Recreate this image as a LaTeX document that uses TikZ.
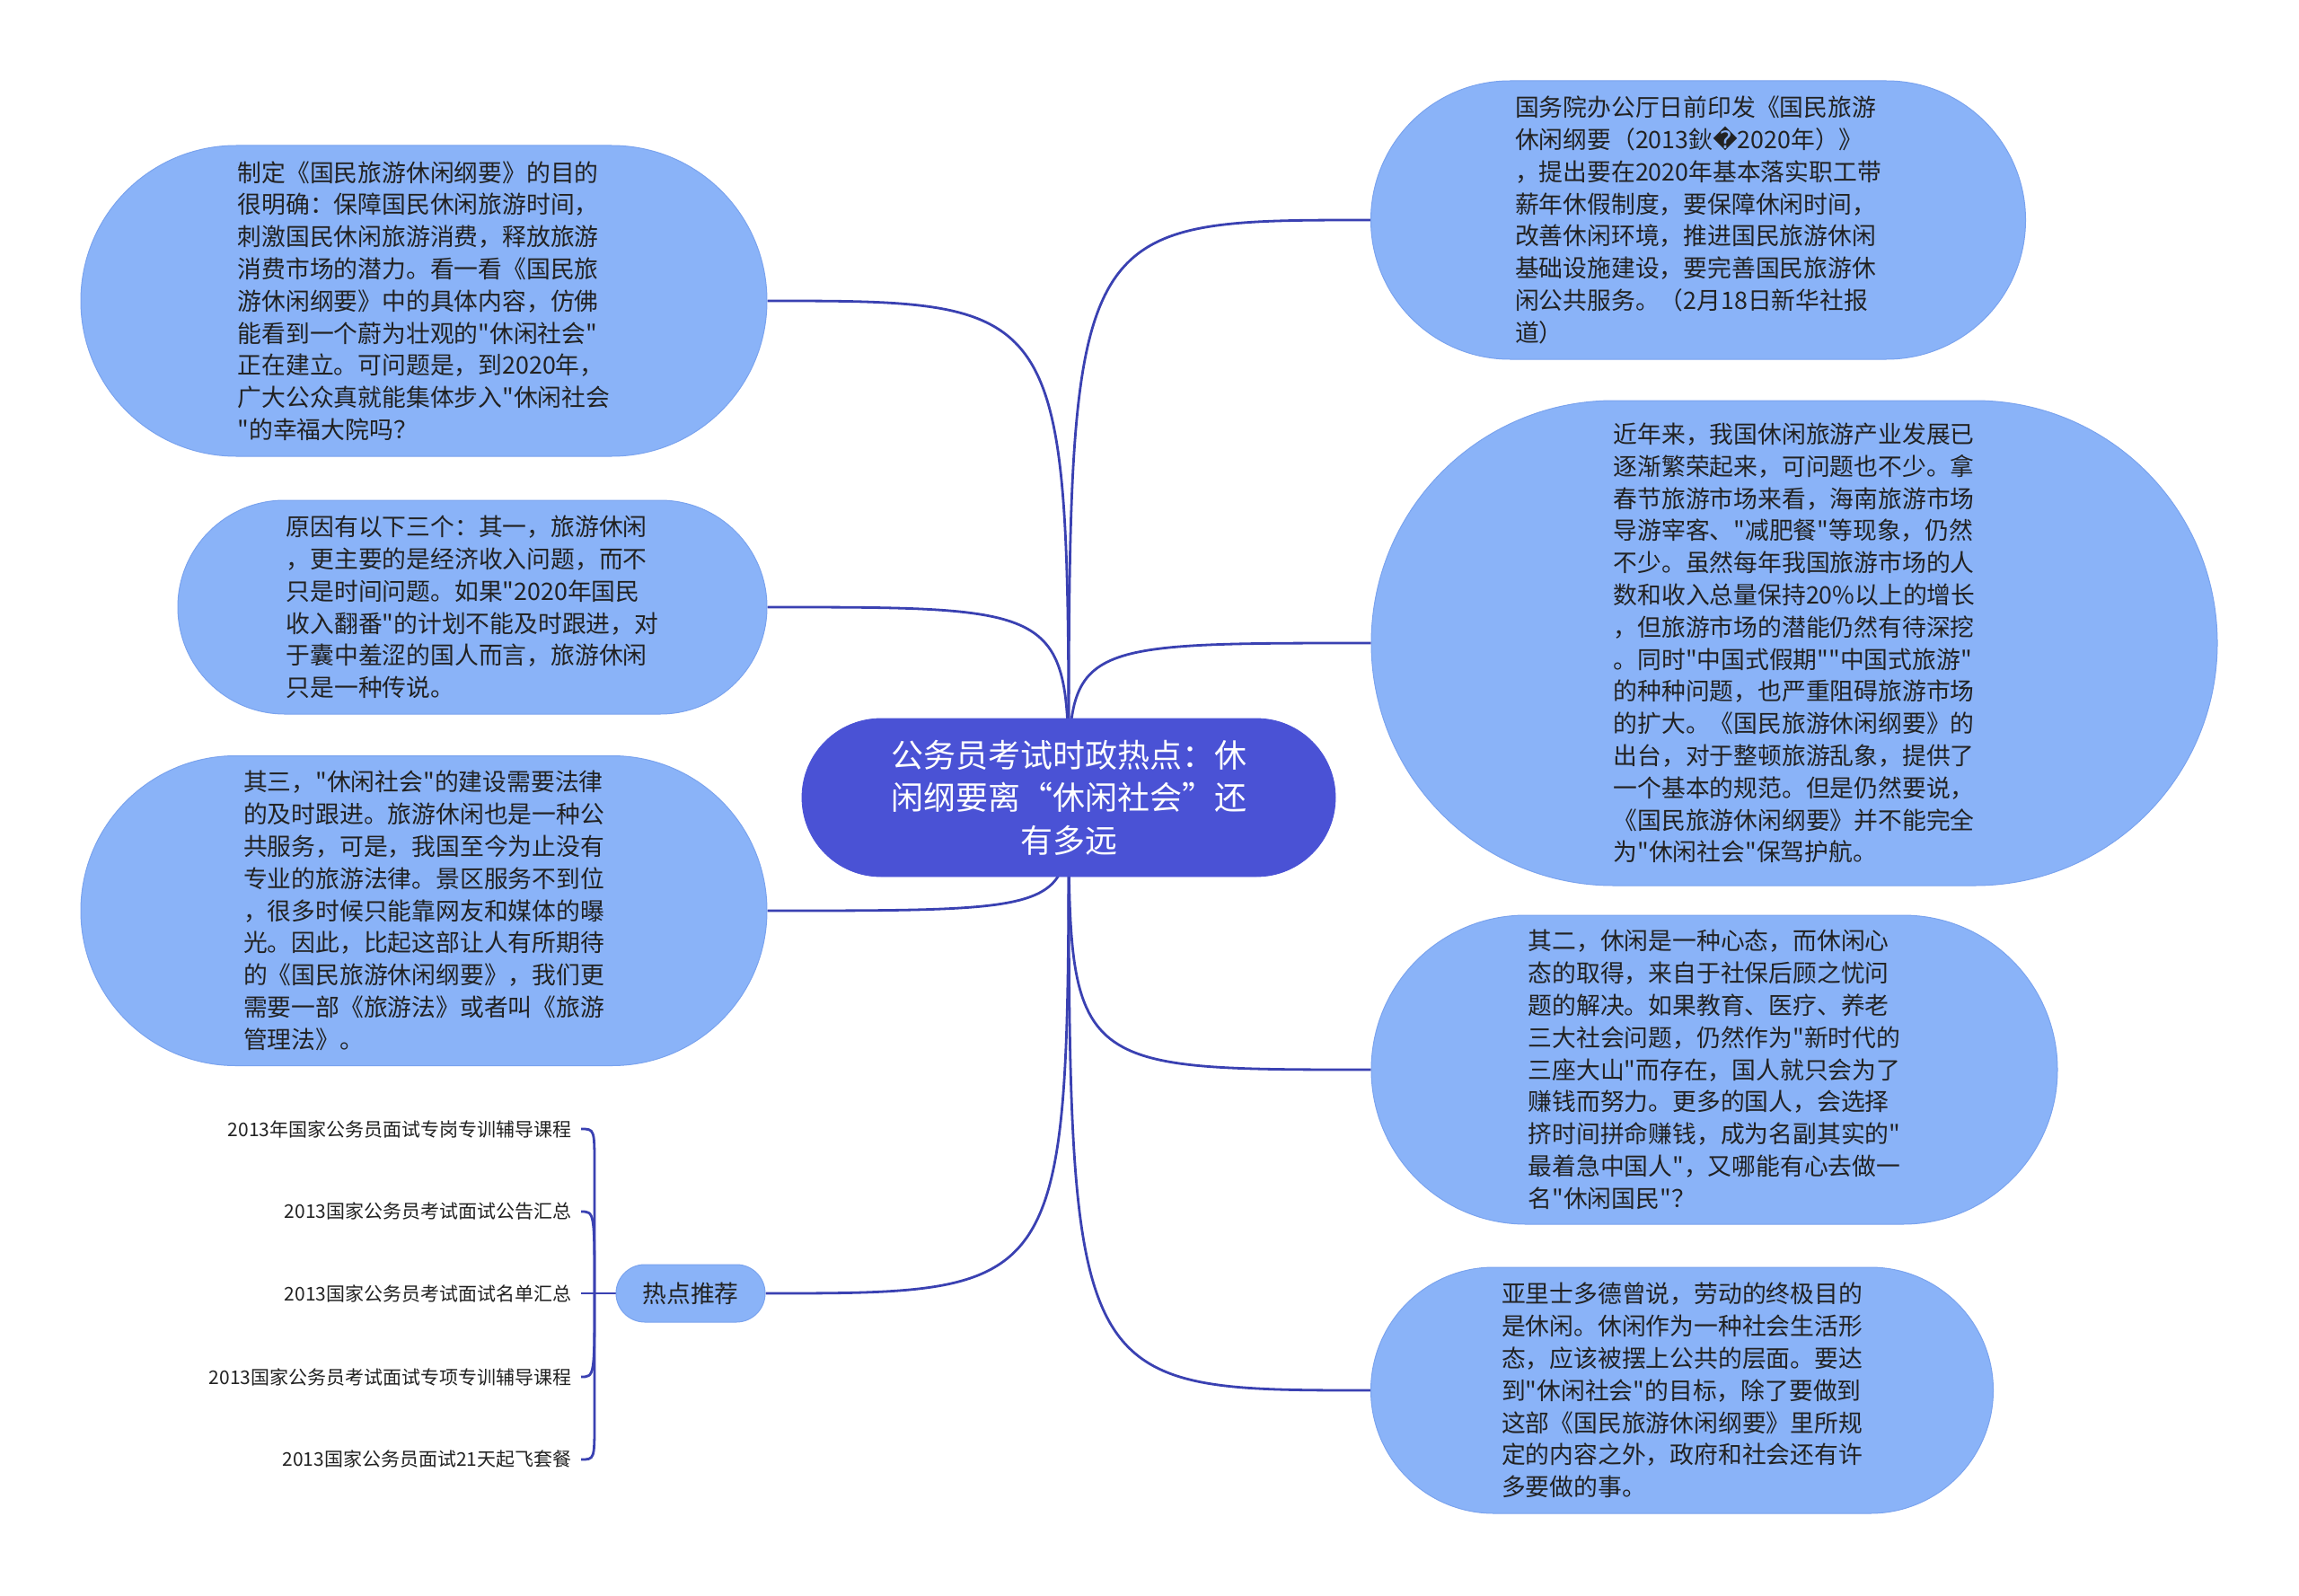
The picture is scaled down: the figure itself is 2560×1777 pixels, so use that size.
\documentclass[tikz,border=0pt]{standalone}
\usepackage{fontspec}
\setmainfont{Noto Sans CJK SC}
\newfontfamily\cjk{Noto Sans CJK SC}
\newfontfamily\symfnt{DejaVu Sans}
\usetikzlibrary{shapes.misc}
\definecolor{bubfill}{HTML}{8AB3F8}
\definecolor{bubdraw}{HTML}{7AA3EE}
\definecolor{ctrfill}{HTML}{4A52D5}
\definecolor{lineblue}{HTML}{3A41B2}
\definecolor{txt}{HTML}{222222}
\pgfdeclarelayer{bg}
\pgfsetlayers{bg,main}
\begin{document}
\begin{tikzpicture}[x=0.5pt,y=-0.5pt,
  bub/.style={rounded rectangle, fill=bubfill, draw=bubdraw, line width=0.5pt, inner sep=0pt, align=left, text=txt, font=\cjk\fontsize{13.4}{17.9}\selectfont},
  ctr/.style={rounded rectangle, fill=ctrfill, draw=ctrfill, inner sep=0pt, align=center, text=white, font=\cjk\fontsize{18}{23.7}\selectfont},
  conn/.style={draw=lineblue, line width=1.4pt},
  item/.style={anchor=east, inner xsep=5pt, inner ysep=0pt, text=txt, font=\cjk\fontsize{10.5}{13}\selectfont}]
\useasboundingbox (0,0) rectangle (2560,1777);

% central topic
\node[ctr, minimum width=297pt, minimum height=88pt] (c) at (1190,888)
 {公务员考试时政热点：休\\闲纲要离“休闲社会”还\\有多远};

% left branches
\node[bub, minimum width=382pt, minimum height=173pt] (l1) at (472,335)
 {制定《国民旅游休闲纲要》的目的\\很明确：保障国民休闲旅游时间，\\刺激国民休闲旅游消费，释放旅游\\消费市场的潜力。看一看《国民旅\\游休闲纲要》中的具体内容，仿佛\\能看到一个蔚为壮观的"休闲社会"\\正在建立。可问题是，到2020年，\\广大公众真就能集体步入"休闲社会\\"的幸福大院吗？};

\node[bub, minimum width=328pt, minimum height=119pt] (l2) at (526,676)
 {原因有以下三个：其一，旅游休闲\\，更主要的是经济收入问题，而不\\只是时间问题。如果"2020年国民\\收入翻番"的计划不能及时跟进，对\\于囊中羞涩的国人而言，旅游休闲\\只是一种传说。};

\node[bub, minimum width=382pt, minimum height=172.5pt] (l3) at (472,1014)
 {其三，"休闲社会"的建设需要法律\\的及时跟进。旅游休闲也是一种公\\共服务，可是，我国至今为止没有\\专业的旅游法律。景区服务不到位\\，很多时候只能靠网友和媒体的曝\\光。因此，比起这部让人有所期待\\的《国民旅游休闲纲要》，我们更\\需要一部《旅游法》或者叫《旅游\\管理法》。};

\node[bub, minimum width=83pt, minimum height=32pt, align=center] (hot) at (769,1440) {热点推荐};

% right branches
\node[bub, minimum width=364.5pt, minimum height=155pt] (r1) at (1891,245)
 {国务院办公厅日前印发《国民旅游\\休闲纲要（2013鈥{\symfnt �}2020年）》\\，提出要在2020年基本落实职工带\\薪年休假制度，要保障休闲时间，\\改善休闲环境，推进国民旅游休闲\\基础设施建设，要完善国民旅游休\\闲公共服务。（2月18日新华社报\\道）};

\node[bub, minimum width=471pt, minimum height=270pt] (r2) at (1998,716)
 {近年来，我国休闲旅游产业发展已\\逐渐繁荣起来，可问题也不少。拿\\春节旅游市场来看，海南旅游市场\\导游宰客、"减肥餐"等现象，仍然\\不少。虽然每年我国旅游市场的人\\数和收入总量保持20\%以上的增长\\，但旅游市场的潜能仍然有待深挖\\。同时"中国式假期""中国式旅游"\\的种种问题，也严重阻碍旅游市场\\的扩大。《国民旅游休闲纲要》的\\出台，对于整顿旅游乱象，提供了\\一个基本的规范。但是仍然要说，\\《国民旅游休闲纲要》并不能完全\\为"休闲社会"保驾护航。};

\node[bub, minimum width=382pt, minimum height=172pt] (r3) at (1909,1191)
 {其二，休闲是一种心态，而休闲心\\态的取得，来自于社保后顾之忧问\\题的解决。如果教育、医疗、养老\\三大社会问题，仍然作为"新时代的\\三座大山"而存在，国人就只会为了\\赚钱而努力。更多的国人，会选择\\挤时间拼命赚钱，成为名副其实的"\\最着急中国人"，又哪能有心去做一\\名"休闲国民"？};

\node[bub, minimum width=346.5pt, minimum height=137pt] (r4) at (1873,1548)
 {亚里士多德曾说，劳动的终极目的\\是休闲。休闲作为一种社会生活形\\态，应该被摆上公共的层面。要达\\到"休闲社会"的目标，除了要做到\\这部《国民旅游休闲纲要》里所规\\定的内容之外，政府和社会还有许\\多要做的事。};

% hot-topic items
\node[item] (i1) at (647,1257) {2013年国家公务员面试专岗专训辅导课程};
\node[item] (i2) at (647,1349) {2013国家公务员考试面试公告汇总};
\node[item] (i3) at (647,1440) {2013国家公务员考试面试名单汇总};
\node[item] (i4) at (647,1533) {2013国家公务员考试面试专项专训辅导课程};
\node[item] (i5) at (647,1625) {2013国家公务员面试21天起飞套餐};

\coordinate (br) at (662,1440);
\coordinate (t1) at (662,1300);
\coordinate (t5) at (662,1582);

\begin{pgfonlayer}{bg}
\fill[white] (0,0) rectangle (2560,1777);
\draw[conn] (c.center) .. controls (c.center |- l1.east) .. (l1.east);
\draw[conn] (c.center) .. controls (c.center |- l2.east) .. (l2.east);
\draw[conn] (c.center) .. controls (c.center |- l3.east) .. (l3.east);
\draw[conn] (c.center) .. controls (c.center |- hot.east) .. (hot.east);
\draw[conn] (c.center) .. controls (c.center |- r1.west) .. (r1.west);
\draw[conn] (c.center) .. controls (c.center |- r2.west) .. (r2.west);
\draw[conn] (c.center) .. controls (c.center |- r3.west) .. (r3.west);
\draw[conn] (c.center) .. controls (c.center |- r4.west) .. (r4.west);

\draw[conn] (hot.west) -- (br);
\draw[conn] (br) -- (t1) .. controls (br |- i1.east) .. (i1.east);
\draw[conn] (br) .. controls (br |- i2.east) .. (i2.east);
\draw[conn] (br) -- (i3.east);
\draw[conn] (br) .. controls (br |- i4.east) .. (i4.east);
\draw[conn] (br) -- (t5) .. controls (br |- i5.east) .. (i5.east);
\end{pgfonlayer}
\end{tikzpicture}
\end{document}
